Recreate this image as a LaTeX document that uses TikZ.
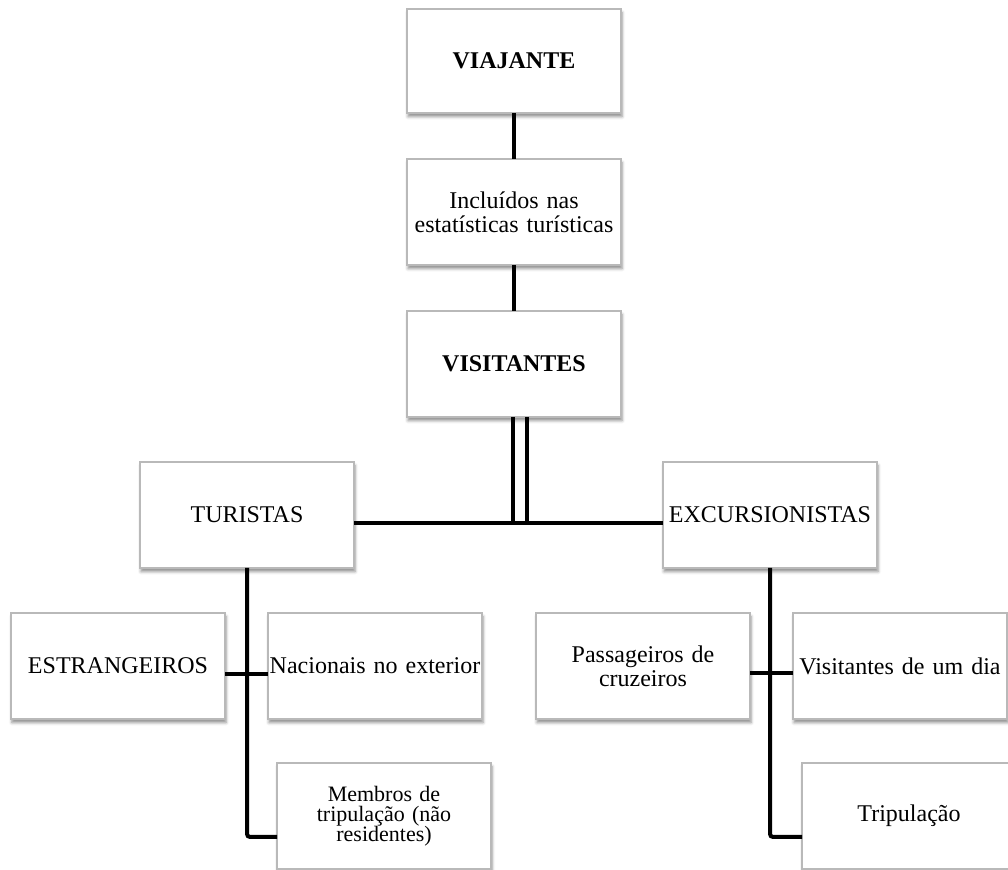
\documentclass[tikz,border=0pt]{standalone}
\usepackage{fontspec}
\setmainfont{Liberation Serif}
\usetikzlibrary{shadows.blur}

\begin{document}
\begin{tikzpicture}[x = 0.5pt, y = -0.5pt,
  caixa/.style = {draw = gray!55, line width = 0.8pt, fill = white,
    minimum width = 107pt, minimum height = 53pt, text width = 107pt,
    inner sep = 0pt, outer sep = 0pt, align = center,
    font = \fontsize{12}{12}\selectfont,
    blur shadow = {shadow xshift = 0.5pt, shadow yshift = -1.8pt,
      shadow blur radius = 1.5pt, shadow opacity = 45}},
  liga/.style = {line width = 2pt, rounded corners = 1.5pt}]
\clip (0,0) rectangle (1008,870);
\node [caixa, minimum height = 52pt] (viajante) at (514,61) {\textbf{VIAJANTE}};
\node [caixa] (incluidos) at (514,212) {Incluídos nas\\estatísticas turísticas};
\node [caixa] (visitantes) at (514,364) {\textbf{VISITANTES}};
\node [caixa] (turistas) at (247,515) {TURISTAS};
\node [caixa] (excursionistas) at (770,515) {EXCURSIONISTAS};
\node [caixa] (estrangeiros) at (118,666) {ESTRANGEIROS};
\node [caixa] (nacionais) at (375,666) {Nacionais no~exterior};
\node [caixa, font = \fontsize{11}{10}\selectfont] (membros) at (384,816) {Membros de\\tripulação (não\\residentes)};
\node [caixa] (passageiros) at (643,666) {Passageiros de\\cruzeiros};
\node [caixa] (umdia) at (900,666) {Visitantes de um dia};
\node [caixa] (tripulacao) at (909,816) {Tripulação};
\draw [liga] (viajante) -- (incluidos);
\draw [liga] (incluidos) -- (visitantes);
\draw [liga] ([xshift = -0.5pt]visitantes.south) -- ++(0,106);
\draw [liga] ([xshift = 6.5pt]visitantes.south) -- ++(0,106);
\draw [liga] ([yshift = -4pt]turistas.east) -- ([yshift = -4pt]excursionistas.west);
\draw [liga] (turistas) |- ([yshift = -10.5pt]membros.west);
\draw [liga] ([yshift = -4pt]estrangeiros.east) -- ([yshift = -4pt]nacionais.west);
\draw [liga] (excursionistas) |- ([yshift = -10.5pt]tripulacao.west);
\draw [liga] ([yshift = -3.5pt]passageiros.east) -- ([yshift = -3.5pt]umdia.west);
\end{tikzpicture}
\end{document}
